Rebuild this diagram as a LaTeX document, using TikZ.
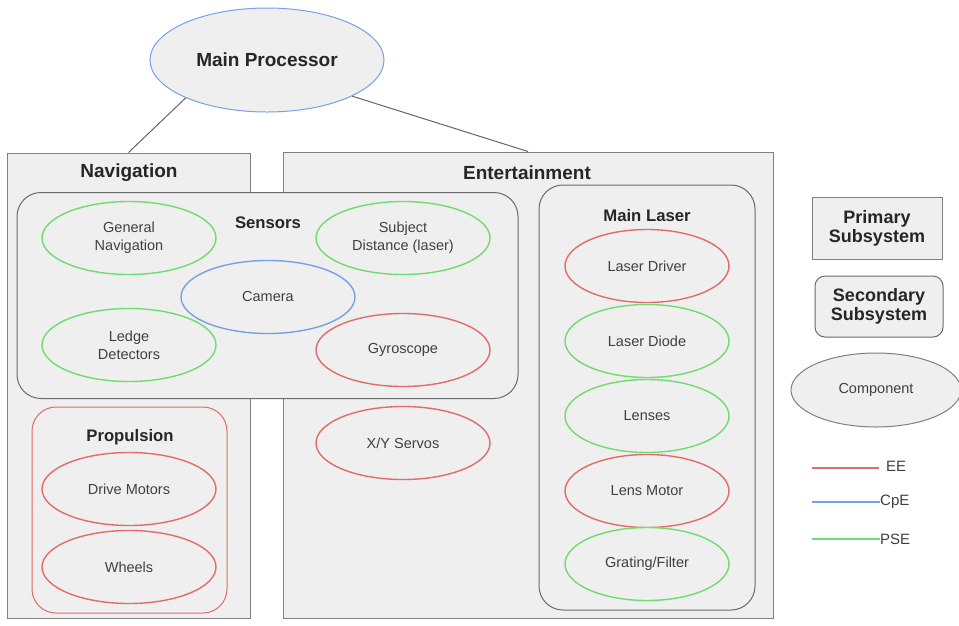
\documentclass[tikz,border=0pt]{standalone}
\usepackage{fontspec}
\setmainfont{Liberation Sans}
\usetikzlibrary{shapes.geometric, positioning}
\definecolor{boxFill}{gray}{0.937}
\definecolor{boxLine}{gray}{0.5}
\definecolor{roundLine}{gray}{0.42}
\definecolor{eeRed}{RGB}{224,108,108}
\definecolor{cpeBlue}{RGB}{120,160,230}
\definecolor{pseGreen}{RGB}{110,220,110}
\definecolor{textGray}{gray}{0.25}
\newcommand{\mainTitle}{\fontsize{19}{21}\selectfont\bfseries}
\newcommand{\subTitle}{\fontsize{16.7}{19}\selectfont\bfseries}
\newcommand{\compText}{\fontsize{14.5}{18}\selectfont}

\begin{document}
\begin{tikzpicture}[x=1pt, y=-1pt,
    primary/.style={draw=boxLine, fill=boxFill, line width=1pt, inner sep=0pt},
    secondary/.style={draw=roundLine, fill=boxFill, line width=1pt, rounded corners=24pt, inner sep=0pt},
    comp/.style={ellipse, draw, fill=boxFill, line width=1.4pt, minimum width=174pt, minimum height=73pt,
        inner sep=0pt, align=center, font=\compText, text=textGray},
    ee/.style={draw=eeRed}, cpe/.style={draw=cpeBlue}, pse/.style={draw=pseGreen},
    title/.style={font=\mainTitle, text=black!85},
    subtitle/.style={font=\subTitle, text=black!85}]
    \fill[white] (0,0) rectangle (959,625);
    \useasboundingbox (0,0) rectangle (959,625);

    % Main processor
    \node[comp, cpe, line width=1pt, minimum width=234pt, minimum height=104pt, font=\mainTitle, text=black!85] (mp) at (267,60) {Main Processor};

    % Primary subsystems
    \node[primary, minimum width=243pt, minimum height=465pt] (nav) at (128.5,385.5) {};
    \node[primary, minimum width=490pt, minimum height=466pt] (ent) at (528,385) {};
    \node[title] (navT) at (129,173) {Navigation};
    \node[title] (entT) at (527,173) {Entertainment};

    \draw[line width=1pt, black!60] (mp.-155) -- (nav.north);
    \draw[line width=1pt, black!60] (mp.-23) -- (ent.north);

    % Sensors
    \node[secondary, minimum width=501pt, minimum height=206pt] (sens) at (267.5,295.5) {};
    \node[subtitle] (sensT) at (268,223) {Sensors};
    \node[comp, pse] (gnav) at (129,238) {General\\Navigation};
    \node[comp, pse] (dist) at (403,238) {Subject\\Distance (laser)};
    \node[comp, cpe] (cam) at (268,297) {Camera};
    \node[comp, pse] (ledge) at (129,345) {Ledge\\Detectors};
    \node[comp, ee] (gyro) at (403,350) {Gyroscope};

    % Propulsion
    \node[secondary, draw=eeRed, minimum width=195pt, minimum height=206pt] (prop) at (129.5,510) {};
    \node[subtitle] (propT) at (130,437) {Propulsion};
    \node[comp, ee] (motors) at (129,489) {Drive Motors};
    \node[comp, ee] (wheels) at (129,567) {Wheels};

    % Entertainment parts
    \node[comp, ee] (servos) at (403,443) {X/Y Servos};
    \node[secondary, minimum width=216pt, minimum height=425pt] (laser) at (647,397.5) {};
    \node[subtitle] (laserT) at (647,216) {Main Laser};
    \node[comp, ee, minimum width=164pt] (driver) at (647,266) {Laser Driver};
    \node[comp, pse, minimum width=164pt] (diode) at (647,341) {Laser Diode};
    \node[comp, pse, minimum width=164pt] (lenses) at (647,416) {Lenses};
    \node[comp, ee, minimum width=164pt] (lmotor) at (647,491) {Lens Motor};
    \node[comp, pse, minimum width=164pt] (filter) at (647,564) {Grating/Filter};

    % Legend
    \node[primary, minimum width=130pt, minimum height=62pt, align=center,
        font=\fontsize{18}{19}\selectfont\bfseries, text=black!85] (legP) at (877,228) {Primary\\Subsystem};
    \node[secondary, rounded corners=10pt, minimum width=128pt, minimum height=61pt, align=center,
        font=\fontsize{18}{19}\selectfont\bfseries, text=black!85] (legS) at (879,306.5) {Secondary\\Subsystem};
    \node[comp, draw=boxLine, line width=1pt, minimum width=170pt, minimum height=74pt] (legC) at (876,390) {Component};

    \coordinate (eeA) at (812,468);
    \coordinate (eeB) at (879,468);
    \coordinate (cpeA) at (812,502);
    \coordinate (pseA) at (812,539);
    \node[anchor=west, inner sep=0pt, font=\fontsize{15}{18}\selectfont, text=black!75] (eeL) at (886,466) {EE};
    \node[anchor=west, inner sep=0pt, font=\fontsize{15}{18}\selectfont, text=black!75] (cpeL) at (880,502) {CpE};
    \node[anchor=west, inner sep=0pt, font=\fontsize{15}{18}\selectfont, text=black!75] (pseL) at (880,539) {PSE};
    \draw[line width=2pt, eeRed] (eeA) -- (eeB);
    \draw[line width=2pt, cpeBlue] (cpeA) -- (cpeL.west);
    \draw[line width=2pt, pseGreen] (pseA) -- (pseL.west);
\end{tikzpicture}
\end{document}
